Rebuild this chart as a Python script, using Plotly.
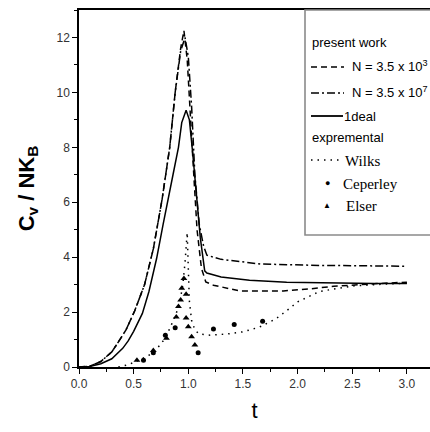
import plotly.graph_objects as go

# ---- data ----
t_ideal = [0, 0.1, 0.2, 0.3, 0.4, 0.45, 0.5, 0.58, 0.64, 0.71, 0.77, 0.81, 0.86, 0.91, 0.94, 0.98,
           1.01, 1.04, 1.08, 1.11, 1.15, 1.17, 1.3, 1.56, 1.9, 2.33, 2.7, 3.0]
c_ideal = [0, 0.02, 0.12, 0.3, 0.68, 0.95, 1.3, 1.95, 2.75, 3.95, 5.2, 6.05, 7.0, 8.0, 8.9, 9.35,
           9.0, 7.8, 6.0, 4.7, 3.5, 3.42, 3.28, 3.16, 3.09, 3.05, 3.04, 3.04]

t_n3 = [0, 0.1, 0.2, 0.3, 0.35, 0.43, 0.51, 0.6, 0.68, 0.76, 0.83, 0.88, 0.93, 0.96,
        0.99, 1.02, 1.05, 1.08, 1.12, 1.16, 1.23, 1.47, 1.87, 2.1, 2.33, 2.7, 3.0]
c_n3 = [0, 0.03, 0.2, 0.55, 0.85, 1.35, 2.05, 3.0, 4.3, 6.1, 8.0, 10.0, 11.6, 12.25,
        11.2, 9.3, 7.0, 5.0, 3.6, 3.1, 2.98, 2.77, 2.77, 2.84, 2.94, 3.03, 3.09]

t_n7 = [0, 0.1, 0.2, 0.3, 0.35, 0.43, 0.51, 0.6, 0.68, 0.76, 0.83, 0.88, 0.93, 0.97,
        1.0, 1.03, 1.06, 1.1, 1.14, 1.17, 1.3, 1.66, 2.2, 2.6, 3.0]
c_n7 = [0, 0.03, 0.2, 0.55, 0.85, 1.35, 2.05, 3.0, 4.3, 6.1, 8.0, 10.0, 11.5, 12.0,
        11.3, 9.5, 7.0, 5.2, 4.4, 4.07, 3.92, 3.75, 3.7, 3.68, 3.67]

t_wilks = [0.36, 0.45, 0.55, 0.65, 0.72, 0.78, 0.83, 0.88, 0.92, 0.95, 0.97, 0.99, 1.0, 1.01,
           1.03, 1.06, 1.1, 1.2, 1.35, 1.5, 1.65, 1.8, 1.9, 2.0, 2.2, 2.5, 2.8, 3.0]
c_wilks = [0, 0.08, 0.25, 0.45, 0.7, 1.0, 1.4, 1.85, 2.3, 3.0, 3.8, 4.9, 3.6, 2.4,
           1.7, 1.35, 1.2, 1.16, 1.2, 1.28, 1.45, 1.75, 2.05, 2.37, 2.75, 2.95, 3.02, 3.05]

t_ceperley = [0.59, 0.68, 0.79, 0.88, 1.09, 1.23, 1.42, 1.68]
c_ceperley = [0.25, 0.52, 1.16, 1.43, 0.52, 1.38, 1.55, 1.67]

t_elser = [0.53, 0.68, 0.8, 0.89, 0.91, 0.93, 0.94, 0.96, 0.98, 0.98, 1.0, 1.03, 1.06]
c_elser = [0.25, 0.6, 1.05, 1.82, 2.2, 2.44, 2.87, 3.22, 2.65, 1.78, 1.47, 1.1, 0.8]

x_ticks = [0.0, 0.5, 1.0, 1.5, 2.0, 2.5, 3.0]
x_ticklabels = ["0.0", "0.5", "1.0", "1.5", "2.0", "2.5", "3.0"]
y_ticks = [0, 2, 4, 6, 8, 10, 12]

fig = go.Figure()
lw = 1.5
fig.add_trace(go.Scatter(x=t_n3, y=c_n3, mode="lines", line=dict(color="black", width=lw, dash="6px,4px"), showlegend=False))
fig.add_trace(go.Scatter(x=t_n7, y=c_n7, mode="lines", line=dict(color="black", width=lw, dash="8px,3px,2px,3px"), showlegend=False))
fig.add_trace(go.Scatter(x=t_ideal, y=c_ideal, mode="lines", line=dict(color="black", width=lw), showlegend=False))
fig.add_trace(go.Scatter(x=t_wilks, y=c_wilks, mode="lines", line=dict(color="black", width=1.5, dash="1.5px,5px"), showlegend=False))
fig.add_trace(go.Scatter(x=t_ceperley, y=c_ceperley, mode="markers", marker=dict(symbol="circle", size=5, color="black"), showlegend=False))
fig.add_trace(go.Scatter(x=t_elser, y=c_elser, mode="markers", marker=dict(symbol="triangle-up", size=6, color="black"), showlegend=False))

W, H = 430, 432
L, R, T, B = 79, 0, 10, 65
pw, ph = W - L - R, H - T - B


def px(x):
    return (x - L) / pw


def py(y):
    return (H - B - y) / ph


shapes = []
annotations = []
# legend box
shapes.append(dict(type="rect", xref="paper", yref="paper", x0=px(305), x1=px(440), y0=py(235), y1=py(10),
                   line=dict(color="#8a8a8a", width=1.6), fillcolor="white", layer="above"))
sans = "Liberation Sans, Arial, sans-serif"
serif = "Liberation Serif, Times New Roman, serif"


def text(x, y, s, size=13, font=sans, xanchor="left"):
    annotations.append(dict(x=px(x), y=py(y), xref="paper", yref="paper", text=s, showarrow=False,
                            xanchor=xanchor, yanchor="middle", font=dict(family=font, size=size, color="black")))


def sample(x0, x1, y, dash, width=1.4):
    shapes.append(dict(type="line", xref="paper", yref="paper", x0=px(x0), x1=px(x1), y0=py(y), y1=py(y),
                       line=dict(color="black", width=width, dash=dash), layer="above"))


text(310, 42, "present work", 13)
sample(311, 344, 67, "6px,4px")
text(350, 66, "N = 3.5 x 10<sup>3</sup>", 13)
sample(311, 344, 93, "8px,3px,2px,3px")
text(350, 92, "N = 3.5 x 10<sup>7</sup>", 13)
sample(311, 343, 116, "solid", 1.8)
text(342, 116, "1deal", 13)
text(310, 137, "expremental", 13)
sample(311, 343, 160, "1.5px,5px", 1.5)
text(343, 161, "Wilks", 15, serif)
text(327, 183, "●", 9, sans, "center")
text(341, 184, "Ceperley", 15, serif)
text(327, 205, "▲", 8, sans, "center")
text(344, 206, "Elser", 15, serif)

fig.update_layout(
    width=W, height=H,
    margin=dict(l=L, r=R, t=T, b=B),
    plot_bgcolor="white", paper_bgcolor="white",
    shapes=shapes, annotations=annotations,
    xaxis=dict(range=[0, pw / 109.3], tickmode="array", tickvals=x_ticks, ticktext=x_ticklabels,
               showgrid=False, zeroline=False, showline=True, linecolor="black", linewidth=1.5, mirror=True,
               ticks="outside", ticklen=5, tickwidth=1, tickcolor="black",
               minor=dict(dtick=0.25, ticks="outside", ticklen=3, tickcolor="black", showgrid=False),
               tickfont=dict(family=sans, size=12, color="#333"),
               title=dict(text="t", font=dict(family=sans, size=22, color="black"), standoff=12)),
    yaxis=dict(range=[0, 13], tickmode="array", tickvals=y_ticks,
               showgrid=False, zeroline=False, showline=True, linecolor="black", linewidth=1.5,
               ticks="outside", ticklen=5, tickwidth=1, tickcolor="black",
               minor=dict(dtick=1, ticks="outside", ticklen=3, tickcolor="black", showgrid=False),
               tickfont=dict(family=sans, size=12, color="#333"),
               title=dict(text="<b>C<sub>v</sub> / NK<sub>B</sub></b>", font=dict(family=sans, size=22, color="black"), standoff=16)),
)

fig.write_html("out.html")
